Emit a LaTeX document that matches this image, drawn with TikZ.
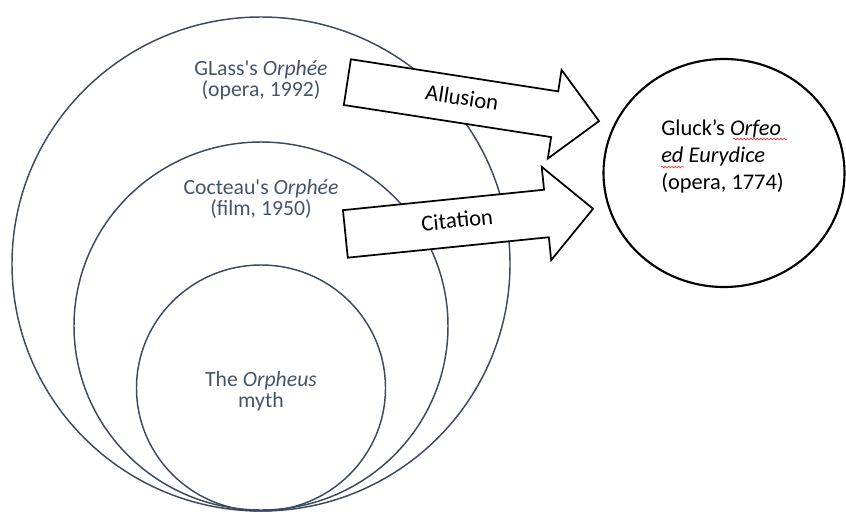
\documentclass[tikz,border=0pt]{standalone}
\usepackage{fontspec}
\setmainfont{Carlito}
\usetikzlibrary{shapes.geometric,shapes.arrows,decorations.pathmorphing}
\definecolor{slate}{HTML}{44546A}
\definecolor{ringline}{HTML}{3B4A5E}
\definecolor{spellred}{HTML}{E0302A}

\begin{document}
\begin{tikzpicture}[x=0.75pt,y=-0.75pt,
    ring/.style={ellipse,draw=ringline,line width=1.1pt,inner sep=0pt},
    ringtext/.style={text=slate,align=center,font=\fontsize{16.3}{16}\selectfont},
    bigarrow/.style={single arrow,draw=black,fill=white,line width=1.3pt,
      single arrow head indent=0pt,single arrow tip angle=90,anchor=tail,
      inner xsep=0pt,text height=12pt,text depth=4pt,font=\fontsize{17}{20}\selectfont},
    wavy/.style={draw=spellred,line width=0.5pt,decorate,
      decoration={snake,amplitude=0.6pt,segment length=2.5pt}}]
  \useasboundingbox (0,0) rectangle (846,511);

  % nested rings
  \node[ring,minimum width=373.5pt,minimum height=370.5pt] (glass) at (261,264) {};
  \node[ring,minimum width=280.5pt,minimum height=276pt] (cocteau) at (261,326) {};
  \node[ring,minimum width=186.75pt,minimum height=184.5pt] (myth) at (261,388) {};
  \node[ringtext] (glass text) at (261,80) {GLass\textquotesingle s \textit{Orphée}\\(opera, 1992)};
  \node[ringtext] (cocteau text) at (261,199) {Cocteau\textquotesingle s \textit{Orphée}\\(film, 1950)};
  \node[ringtext] (myth text) at (261,391) {The \textit{Orpheus}\\myth};

  % Gluck
  \node[ellipse,draw=black,line width=1.6pt,minimum width=180.75pt,minimum height=171pt] (gluck) at (724,173) {};
  \node[anchor=west,align=left,inner sep=0pt,font=\fontsize{16.8}{20.25}\selectfont] (gluck text) at (661,156)
    {Gluck’s \textit{Orfeo}\\\textit{ed Eurydice}\\(opera, 1774)};
  \draw[wavy] (733,139) -- (787,139);
  \draw[wavy] (661,167) -- (684,167);

  % block arrows
  \coordinate (allusion tail) at (346.5,82);
  \coordinate (citation tail) at (344.5,234);
  \node[bigarrow,minimum height=191pt,inner ysep=8.7pt,single arrow head extend=16.3pt,rotate=-8.8]
    (allusion) at (allusion tail) {Allusion};
  \node[bigarrow,minimum height=186.75pt,inner ysep=9.25pt,single arrow head extend=17.25pt,rotate=5.8]
    (citation) at (citation tail) {Citation};
\end{tikzpicture}
\end{document}
